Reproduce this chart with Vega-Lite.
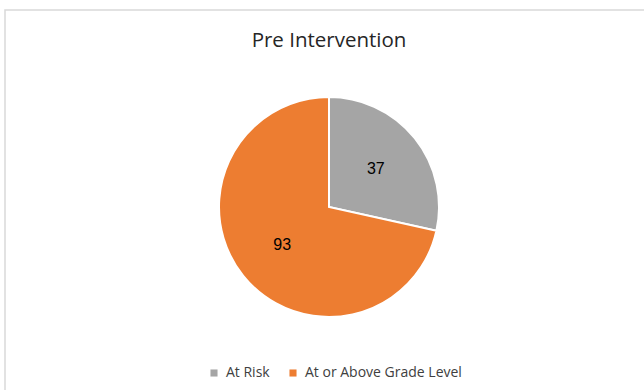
{
  "$schema": "https://vega.github.io/schema/vega-lite/v6.json",
  "width": 648,
  "height": 394,
  "padding": {"left": 5, "top": 10, "right": 0, "bottom": 0},
  "autosize": {"type": "none"},
  "background": "white",
  "view": {"stroke": "#d9d9d9", "strokeWidth": 1.5, "fill": "white"},
  "title": {
    "text": "Pre Intervention",
    "offset": -41,
    "font": "Open Sans",
    "fontSize": 20.5,
    "fontWeight": "normal",
    "color": "#262626",
    "anchor": "middle"
  },
  "data": {
    "values": [
      {"category": "At Risk", "value": 37, "order": 1},
      {"category": "At or Above Grade Level", "value": 93, "order": 2}
    ]
  },
  "encoding": {
    "theta": {"field": "value", "type": "quantitative", "stack": true},
    "order": {"field": "order", "type": "quantitative"},
    "color": {
      "field": "category",
      "type": "nominal",
      "sort": ["At Risk", "At or Above Grade Level"],
      "scale": {"domain": ["At Risk", "At or Above Grade Level"], "range": ["#A5A5A5", "#ED7D31"]},
      "legend": {
        "title": null,
        "orient": "none",
        "direction": "horizontal",
        "legendX": 202,
        "legendY": 356,
        "symbolType": "square",
        "symbolSize": 50,
        "symbolStrokeWidth": 0,
        "labelFont": "Open Sans",
        "labelFontSize": 14,
        "labelColor": "#404040",
        "columnPadding": 16,
        "labelOffset": 5
      }
    }
  },
  "layer": [
    {
      "mark": {"type": "arc", "outerRadius": 110, "stroke": "white", "strokeWidth": 2}
    },
    {
      "mark": {"type": "text", "radius": 60, "font": "Liberation Sans", "fontSize": 16, "color": "#000000"},
      "encoding": {
        "text": {"field": "value", "type": "quantitative"},
        "color": {"value": "#000000"}
      }
    }
  ]
}
